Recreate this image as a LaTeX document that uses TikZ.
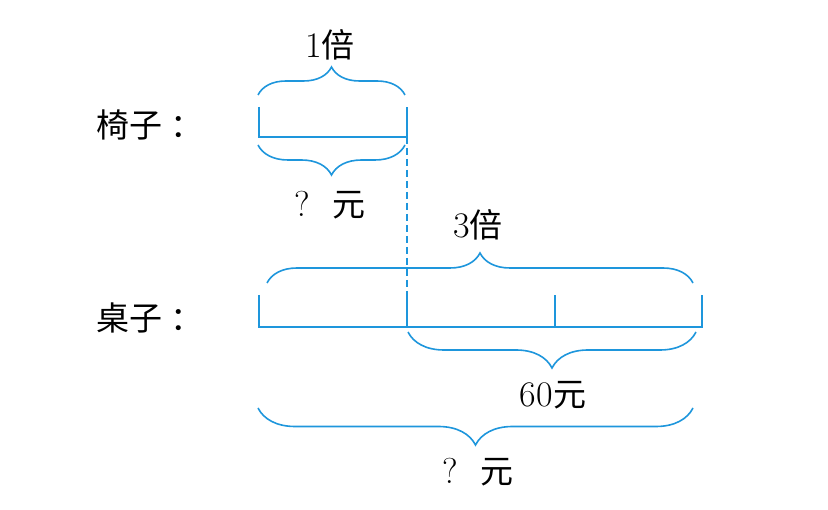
\documentclass[tikz,border=0pt]{standalone}
\usepackage{fontspec}
\newfontfamily\cjk{Noto Sans CJK SC}
\usepackage{xcolor}
\usetikzlibrary{decorations.pathreplacing, positioning}
\definecolor{barblue}{RGB}{30,150,220}

\begin{document}
\begin{tikzpicture}[
    x=1pt, y=-1pt,
    bar/.style={barblue, line width=1.8pt},
    bracket/.style={barblue, line width=1.6pt, decorate, decoration={brace, amplitude=#1}},
    label/.style={font=\fontsize{36}{40}\selectfont, inner sep=0pt}
]
\useasboundingbox (0,0) rectangle (828,510);

% Coordinates of the bars
\coordinate (c0) at (259,137);
\coordinate (c1) at (407,137);
\coordinate (d0) at (259,327);
\coordinate (d1) at (407,327);
\coordinate (d2) at (555,327);
\coordinate (d3) at (702,327);

% Labels
\node[label] (chair) at (150,125) {\cjk\fontsize{33}{36}\selectfont 椅子\hspace{8pt}：};
\node[label] (desk) at (150,318) {\cjk\fontsize{33}{36}\selectfont 桌子\hspace{8pt}：};

% Chair bar
\draw[bar] ([yshift=30]c0) -- (c0) -- (c1) -- ([yshift=30]c1);

% Desk bar
\draw[bar] ([yshift=32]d0) -- (d0) -- (d3) -- ([yshift=32]d3);
\draw[bar] (d1) -- ([yshift=32]d1);
\draw[bar] (d2) -- ([yshift=32]d2);
\draw[bar, dash pattern=on 7pt off 4pt] (c1) -- (d1);

% Braces
\draw[bracket=28] (258,95) -- (405,95);
\draw[bracket=30] (405,145) -- (258,145);
\draw[bracket=30] (267,283) -- (693,283);
\draw[bracket=36] (696,332) -- (408,332);
\draw[bracket=37] (693,408) -- (258,408);

% Texts
\node[label] (onetimes) at (330,45) {1\cjk\fontsize{33}{36}\selectfont 倍};
\node[label] (chairprice) at (330,205) {?\ \ \cjk\fontsize{33}{36}\selectfont 元};
\node[label] (threetimes) at (478,225) {3\cjk\fontsize{33}{36}\selectfont 倍};
\node[label] (sixty) at (553,395) {60\cjk\fontsize{33}{36}\selectfont 元};
\node[label] (total) at (478,472) {?\ \ \cjk\fontsize{33}{36}\selectfont 元};

\end{tikzpicture}
\end{document}
